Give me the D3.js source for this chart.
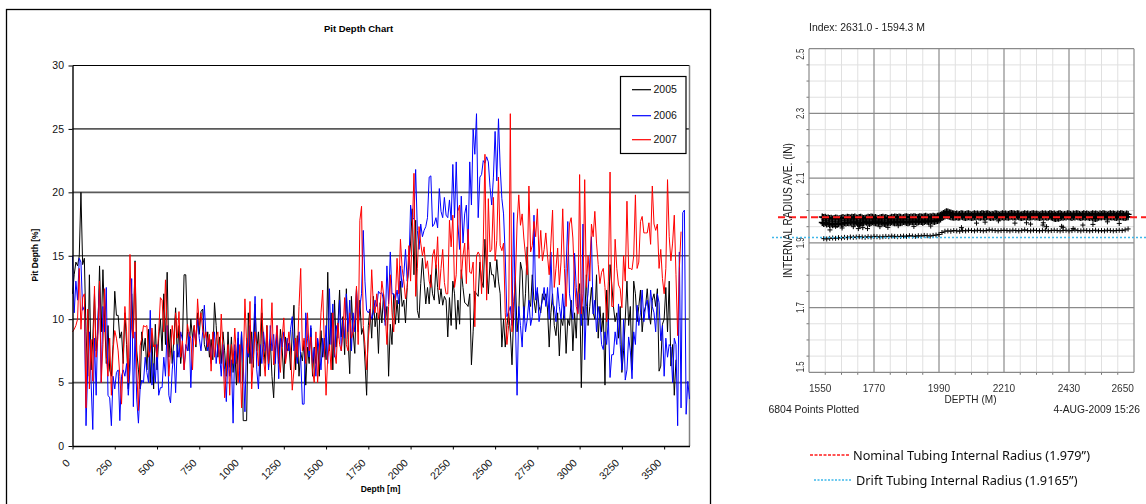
<!DOCTYPE html>
<html>
<head>
<meta charset="utf-8">
<script src="https://cdn.jsdelivr.net/npm/d3@7"></script>
<style>
  html, body { margin: 0; padding: 0; background: #fff; }
  svg { display: block; }
</style>
</head>
<body>
<svg id="chart" width="1146" height="504"></svg>
<script>
// ---------- Pit depth survey (left panel) ----------
// one reading every 10 m, starting at 0 m
const pitDepthStart = 0;
const pitDepthStep = 10;

const pit2005 = [
  12, 13.5, 14.5, 14.2, 15, 20, 14.3, 14.8, 9, 5.5,
  13.5, 6, 8.5, 12, 7.5, 9, 14.2, 9, 13.9, 10,
  6.5, 9.5, 6, 5.5, 8, 12.2, 10.3, 10.3, 8.5, 9,
  6.5, 10.5, 8, 4.5, 7, 12, 9, 14.6, 7.5, 6,
  4.5, 9, 7.5, 8.5, 6, 9.2, 5, 8.8, 4.5, 9.6,
  6, 8.5, 10, 7.5, 12, 8, 13.7, 7, 9.2, 6.5,
  8.5, 10.9, 7, 9.5, 6.5, 8, 13.5, 13.5, 9, 7.5,
  10, 8.5, 9.5, 7.8, 10.5, 8.8, 10.6, 10.8, 8, 7.5,
  9, 7, 8.4, 6.8, 11.3, 9.5, 7, 8.6, 6.5, 9,
  7.5, 5.5, 9, 6.2, 8.6, 5.8, 7.5, 4.8, 8.5, 6,
  9, 2, 2, 2, 10.5, 6.5, 9, 6.2, 11.2, 7.5,
  9, 5.5, 10.5, 8, 6.5, 9.5, 6.2, 8.4, 5.5, 3.8,
  7.5, 8.8, 6.5, 9.2, 7.8, 5.3, 8.6, 7.5, 8.1, 6,
  9, 11.1, 6, 8.7, 5.5, 7.4, 6.7, 8.3, 4.8, 7.8,
  6.5, 9.3, 5.5, 7.8, 6.5, 8.4, 5.5, 9.1, 7, 8.5,
  6.8, 13.7, 7.5, 10.5, 6, 11.5, 7.8, 9.5, 12.3, 8.6,
  10.2, 7.2, 12.4, 8.4, 5.7, 11.8, 9, 7.3, 12.4, 9,
  11.5, 8.8, 9.3, 6.7, 4, 9.5, 10.8, 8.5, 11.8, 9.4,
  10.5, 7.3, 11.3, 9.7, 12, 9.8, 11, 5.5, 9.6, 8,
  12, 9.6, 11.5, 9.7, 13, 11, 11.5, 9.7, 12.5, 14.5,
  16, 18.7, 13.5, 17.8, 10.7, 10.1, 12.8, 14.8, 13, 11.2,
  12.5, 11.2, 13.5, 12, 11.5, 14.3, 12.5, 11.2, 12.4, 11.1,
  11.8, 11.5, 8.6, 11.7, 9.5, 13, 12, 9.2, 11.5, 9.6,
  13.9, 12.5, 11.3, 11.2, 11, 12, 6.4, 9, 12.2, 12,
  11.8, 14.5, 13, 12.5, 16.3, 14, 12, 14.5, 13.5, 13.5,
  12.5, 14.7, 13, 12, 7.8, 10, 7.8, 9.5, 10.5, 9,
  6.4, 10.5, 13.3, 9, 10.5, 14.5, 13.8, 10, 12, 15.7,
  11.5, 11, 13.5, 11.5, 10.5, 12.2, 11, 10.5, 12, 11.5,
  12, 10.8, 7.8, 10.5, 12, 9.5, 8.7, 10.5, 7.1, 10,
  9.5, 11, 7.3, 10, 9.5, 11.5, 7.5, 10.5, 8.5, 12,
  12.8, 4.6, 11, 10, 13.5, 9.5, 11, 12.5, 10.5, 10,
  13.5, 8.5, 11, 9, 10.5, 4.8, 12.3, 9.5, 14.3, 12.8,
  11, 9.8, 10.5, 8.5, 11, 5.8, 7.5, 10, 13, 9.5,
  11, 6, 13, 12, 9.8, 11, 12.3, 9, 10.5, 11,
  12.4, 10.5, 9.6, 11.5, 12, 11, 12.4, 5.9, 6.3, 9.6,
  10, 12.5, 9, 13, 6.3, 8, 4, 6.8
];

const pit2006 = [
  15, 10.5, 13, 11.5, 14.8, 14.5, 10.7, 11, 1.6, 6,
  9, 5, 1.3, 8.5, 4, 10, 12.5, 5, 11, 9,
  12.5, 4, 3.8, 1.6, 5.5, 4.5, 5.8, 6, 2, 5.5,
  6, 5.5, 6.5, 4, 6, 13.2, 3.1, 9, 3.7, 1.8,
  4.5, 5.2, 5, 7, 5.8, 5, 10.7, 4.8, 6.5, 5,
  8, 4, 4.6, 4.6, 7, 5.5, 9.5, 4, 3.4, 6,
  7.5, 4.2, 8, 7, 9, 8.4, 6, 8, 7.5, 9,
  4.6, 8.5, 9, 8.3, 10, 8.5, 7.5, 9, 11.1, 8.5,
  7.5, 8.5, 6.5, 7.8, 9, 6.5, 8, 7.2, 5.5, 8,
  6, 3.5, 7.5, 5.5, 6.8, 1.8, 8, 6.5, 9, 5,
  9, 6.5, 2.7, 8.5, 7, 9.5, 6.5, 8.5, 11.8, 6,
  4.5, 8, 6.5, 9, 7.5, 8.5, 6, 9.5, 7.5, 8.8,
  6.5, 9.5, 5.3, 8.5, 7.8, 9, 6.8, 8.5, 7.5, 9.2,
  10.2, 7.5, 8.5, 6.5, 9, 7, 3.3, 3.3, 10.5, 8.5,
  7, 9.5, 6.5, 7.7, 5.5, 8.5, 7.5, 6, 8.5, 7,
  9.5, 6.5, 12.4, 8, 11.2, 7, 9.5, 8.5, 11.5, 7.5,
  10, 8.5, 12, 9, 11.5, 7.5, 10.5, 9, 12.4, 9.5,
  11, 12, 17, 13, 10.7, 10.5, 10.8, 10, 10.5, 11.5,
  11, 12.2, 12, 12.1, 11.5, 9.5, 14.2, 11.2, 15.3, 12,
  12, 11.5, 12.3, 11.2, 14.2, 12.5, 13.5, 15.5, 13, 14,
  19, 17.8, 18, 21.8, 17, 15.5, 17.5, 16.5, 17, 17.3,
  18, 21.2, 21.3, 17.3, 17.5, 18, 17.2, 20.3, 18.5, 18,
  19.6, 18.2, 18, 19.4, 17.8, 22.2, 18, 22.4, 17.5, 15.5,
  19.7, 16, 18.3, 19, 15.5, 22.4, 19, 25, 23, 26.2,
  18, 21.2, 21.4, 22.5, 22.3, 22.8, 22.4, 20.4, 19, 21.2,
  24.8, 20.9, 25.8, 22, 19.5, 18.3, 15, 10.2, 10.6, 11,
  9.5, 18.4, 10, 4, 11, 9.5, 7.8, 11, 9, 10,
  11.5, 9.5, 10.2, 18.2, 11.5, 12.5, 9.8, 10.8, 11.5, 12.5,
  11, 12.5, 10, 15.3, 11.2, 11, 9.8, 12.5, 11, 10,
  12, 10, 14, 17.7, 12, 11, 10, 15.2, 12.5, 10.5,
  12, 9.5, 17.5, 6.8, 11, 12, 14.5, 16.5, 10.4, 11.5,
  9, 11, 10, 8, 7.6, 9, 8, 10, 5.4, 7.2,
  7.2, 9, 8, 11.2, 8, 6, 10, 5.2, 6, 8.6,
  7.5, 5.3, 9, 8, 11.1, 9.5, 10.5, 12.3, 9.8, 11,
  11.5, 10, 12.3, 11, 10.5, 9, 12, 11.3, 8.3, 9.5,
  5.5, 8.5, 7, 8, 7.8, 5, 8.5, 8, 1.6, 15.3,
  3, 18.4, 18.6, 2.5, 5.1, 3.7
];

const pit2007 = [
  9, 9.2, 9.5, 10, 14, 9.2, 11.7, 12, 3, 10.8,
  4.5, 8.4, 5.1, 12.6, 7, 8.5, 13, 5, 8, 12.4,
  7, 5.5, 8.5, 4, 7.5, 9.1, 8.5, 7.5, 5.5, 3.3,
  7, 11, 9, 5, 15.1, 9.3, 8.5, 14.5, 6, 2.8,
  7.9, 8.5, 9.5, 9.4, 9.5, 7, 7.5, 9.3, 7.8, 8,
  7, 9, 11.7, 11.5, 9, 13.1, 9, 5.5, 7.5, 9.5,
  8, 10.5, 8.5, 10.6, 7, 8.3, 6, 7.5, 9.6, 8.8,
  8.5, 6, 9.5, 8, 11.6, 9.5, 10.5, 9.2, 8.5, 9,
  7.8, 8.8, 5.9, 9, 7, 8.5, 9, 6.5, 10.4, 7.5,
  3.8, 6, 8, 4, 8, 6.5, 9.3, 7, 5, 8,
  3, 6, 11.6, 8, 7.3, 11.4, 4.5, 7, 9, 8,
  6.3, 8.5, 11.6, 7, 5.5, 9.5, 6.5, 8, 11.3, 6.4,
  8, 9.5, 7, 5.8, 8.5, 10.1, 6.5, 7.6, 9, 7.5,
  4.4, 6, 8.5, 7, 11, 14, 7.5, 8.5, 6.5, 10.5,
  7.5, 8.6, 6, 5, 9, 5, 7.5, 10.5, 12.3, 8,
  4, 7, 8, 6, 10.5, 7.5, 6.5, 9.7, 8, 7.5,
  9, 11.7, 8, 7.5, 10.5, 8.5, 9, 10, 12.6, 8,
  17.8, 18.9, 9.5, 8, 6, 8.5, 10, 13.9, 11, 10.5,
  12, 10, 11, 13, 12, 10.5, 8, 11, 13.5, 10.5,
  9, 11.5, 14.8, 12, 16.3, 14, 13, 11.6, 12.5, 15.8,
  13, 17, 21.5, 11.8, 14, 17.3, 16, 15, 15.7, 14,
  14.6, 13, 12.5, 15, 15.5, 14, 16.5, 12.3, 14, 15.5,
  12.9, 12, 12, 17.8, 15.7, 18.2, 12.5, 13.5, 18.5, 19,
  13.2, 15, 16, 12.8, 17.1, 13.7, 13.6, 14.5, 9.4, 15,
  15.3, 15, 12, 16, 23, 11.5, 19.5, 15.3, 15.5, 19.6,
  14.6, 16.2, 21.2, 15.8, 15.4, 16, 10.5, 8, 9.5, 26.2,
  9, 11.4, 13, 17.5, 19.8, 17.4, 18.3, 16.4, 15, 13.5,
  20.5, 15.3, 15.8, 17.7, 16.5, 18.7, 14.8, 17, 14.6, 15.5,
  16.8, 15, 13.5, 16, 18.6, 12.5, 14, 15.6, 12.7, 14.5,
  18.7, 14, 11, 14.5, 17.5, 18, 16.4, 13, 11, 10.4,
  21.4, 10.4, 12, 21, 12.5, 15, 13, 17.5, 16.5, 18.5,
  16, 14.3, 12.8, 13.7, 14, 12.5, 9.8, 13, 21.6, 11,
  11, 16.3, 14, 12.7, 12.4, 10.9, 15, 13, 19.3, 14,
  14, 13.9, 15, 19.8, 14, 14.5, 17.7, 18.1, 16.8, 16.8,
  16.8, 17.6, 15.9, 20.5, 17.5, 17, 17.5, 14, 15.5, 13.2,
  12, 14, 21, 16.5, 14.6, 16, 18.2, 13.5, 8.7, 14,
  16.9
];

const pitYears = ["2005", "2006", "2007"];
const pitColors = ["#000000", "#0000ff", "#ff0000"];
const pitTicksX = [0, 250, 500, 750, 1000, 1250, 1500, 1750, 2000, 2250, 2500, 2750, 3000, 3250, 3500];
const pitTicksY = [0, 5, 10, 15, 20, 25, 30];

// ---------- Caliper log (right panel) ----------
// dense band of readings near nominal radius, one pair every 5 m from 1595 m
const bandStart = 1595;
const bandStep = 5;
const bandUpper = [
  1.980,1.978,1.979,1.976,1.977,1.975,1.976,1.974,1.975,1.977,1.976,1.974,1.975,1.977,1.978,1.976,1.977,1.979,1.978,1.977,
  1.979,1.978,1.980,1.977,1.976,1.978,1.979,1.977,1.975,1.976,1.977,1.979,1.978,1.980,1.979,1.977,1.978,1.976,1.975,1.977,1.978,1.979,
  1.977,1.978,1.976,1.975,1.977,1.979,1.978,1.980,1.979,1.978,1.980,1.979,1.977,1.978,1.980,1.981,1.979,1.978,1.980,1.979,
  1.981,1.980,1.978,1.979,1.981,1.980,1.979,1.981,1.982,1.980,1.979,1.981,1.980,1.982,1.981,1.980,1.982,1.983,1.985,
  1.988,1.991,1.993,1.996,1.995,1.993,1.992,1.990,1.989,
  1.988,1.989,1.987,1.988,1.990,1.989,1.987,1.988,1.989,1.990,
  1.988,1.986,1.988,1.990,1.988,1.989,1.987,1.988,1.990,1.989,
  1.988,1.989,1.990,1.988,1.986,1.988,1.987,1.990,1.989,1.988,
  1.986,1.988,1.990,1.988,1.989,1.987,1.988,1.989,1.991,1.989,
  1.989,1.988,1.990,1.989,1.986,1.987,1.988,1.990,1.988,1.989,
  1.987,1.988,1.989,1.990,1.988,1.989,1.988,1.986,1.988,1.990,
  1.988,1.989,1.987,1.988,1.990,1.989,1.988,1.989,1.986,1.988,
  1.989,1.990,1.988,1.986,1.988,1.987,1.990,1.989,1.988,1.986,
  1.989,1.988,1.990,1.989,1.988,1.986,1.988,1.990,1.988,1.989,
  1.988,1.986,1.988,1.990,1.988,1.989,1.988,1.986,1.989,1.988,
  1.990,1.989,1.988,1.986,1.988,1.990,1.988,1.989,1.988,1.986,
  1.989,1.988,1.990,1.989,1.988,1.986,1.989,1.988
];
const bandLower = [
  1.963,1.960,1.962,1.958,1.960,1.957,1.959,1.956,1.958,1.960,1.957,1.959,1.961,1.958,1.960,1.962,1.961,1.963,1.962,1.964,
  1.963,1.965,1.962,1.964,1.960,1.958,1.961,1.963,1.962,1.965,1.964,1.962,1.960,1.963,1.965,1.964,1.962,1.961,1.963,1.965,1.964,1.962,
  1.960,1.959,1.962,1.964,1.963,1.965,1.964,1.962,1.964,1.966,1.965,1.963,1.964,1.966,1.965,1.963,1.962,1.964,1.966,1.965,
  1.967,1.966,1.964,1.965,1.967,1.966,1.964,1.966,1.968,1.967,1.965,1.966,1.968,1.967,1.966,1.968,1.969,1.971,1.974,
  1.978,1.981,1.983,1.985,1.984,1.982,1.981,1.980,1.979,
  1.980,1.981,1.979,1.980,1.982,1.981,1.979,1.978,1.980,1.981,
  1.980,1.978,1.979,1.981,1.980,1.982,1.980,1.979,1.981,1.980,
  1.979,1.981,1.982,1.980,1.978,1.980,1.979,1.981,1.982,1.980,
  1.978,1.980,1.981,1.979,1.981,1.980,1.979,1.981,1.982,1.980,
  1.981,1.980,1.982,1.981,1.979,1.978,1.980,1.981,1.980,1.981,
  1.979,1.980,1.981,1.982,1.980,1.981,1.980,1.978,1.979,1.981,
  1.980,1.981,1.979,1.980,1.982,1.980,1.978,1.976,1.975,1.977,
  1.976,1.978,1.980,1.979,1.981,1.980,1.982,1.981,1.980,1.978,
  1.981,1.980,1.982,1.981,1.980,1.978,1.980,1.981,1.979,1.981,
  1.980,1.978,1.980,1.977,1.976,1.975,1.977,1.979,1.981,1.980,
  1.982,1.981,1.980,1.978,1.980,1.981,1.980,1.981,1.979,1.978,
  1.980,1.979,1.981,1.980,1.979,1.978,1.980,1.981
];
// lower trace, one reading every 10 m from 1600 m
const traceStart = 1600;
const traceStep = 10;
const traceRadius = [
  1.913,1.912,1.914,1.915,1.914,1.916,1.915,1.917,1.916,1.918,
  1.917,1.918,1.919,1.918,1.917,1.919,1.918,1.920,1.919,1.918,
  1.919,1.920,1.919,1.921,1.920,1.919,1.920,1.921,1.920,1.922,
  1.921,1.920,1.922,1.921,1.923,1.922,1.921,1.923,1.924,1.926,
  1.932,1.936,1.937,1.936,1.938,1.937,1.936,1.938,1.937,1.939,
  1.938,1.937,1.939,1.938,1.937,1.938,1.940,1.939,1.938,1.937,
  1.938,1.939,1.938,1.937,1.939,1.938,1.937,1.938,1.940,1.938,
  1.937,1.939,1.938,1.937,1.938,1.939,1.937,1.938,1.939,1.938,
  1.937,1.938,1.939,1.937,1.938,1.940,1.938,1.937,1.939,1.938,
  1.937,1.938,1.939,1.937,1.938,1.937,1.939,1.938,1.937,1.938,
  1.939,1.938,1.940,1.943
];
// isolated readings between the band and the lower trace
const strayDepth = [1621, 1640, 1662, 1700, 1717, 1722, 1732, 1748, 1790, 1817, 1852, 1905, 1962, 2066, 2117,
                    2146, 2191, 2247, 2286, 2300, 2342, 2343, 2354, 2405, 2410, 2444, 2477, 2511, 2560, 2600];
const strayRadius = [1.940, 1.951, 1.946, 1.950, 1.944, 1.953, 1.947, 1.944, 1.950, 1.948, 1.953, 1.951, 1.952, 1.947, 1.961,
                     1.964, 1.968, 1.961, 1.962, 1.958, 1.955, 1.962, 1.950, 1.951, 1.948, 1.944, 1.955, 1.957, 1.965, 1.960];

const nominalRadius = 1.979;
const driftRadius = 1.9165;
const caliperTicksX = [1550, 1770, 1990, 2210, 2430, 2650];
const caliperTicksY = [1.5, 1.7, 1.9, 2.1, 2.3, 2.5];

// ====================================================================
const svg = d3.select("#chart");
svg.append("rect").attr("width", 1146).attr("height", 504).attr("fill", "#fff");

const defs = svg.append("defs");
defs.append("filter").attr("id", "soft")
  .attr("filterUnits", "userSpaceOnUse")
  .attr("x", 740).attr("y", 0).attr("width", 406).attr("height", 504)
  .append("feGaussianBlur").attr("stdDeviation", 0.35);

const SANS = "'Liberation Sans', Arial, sans-serif";
const NARROW = "'Liberation Sans Narrow', 'Arial Narrow', 'Liberation Sans', Arial, sans-serif";

// ---------------- Left panel ----------------
(function drawPitChart() {
  const P = { left: 72.5, right: 689.5, top: 65.5, bottom: 446 };
  const x = d3.scaleLinear().domain([0, 3650]).range([P.left, P.right]);
  const y = d3.scaleLinear().domain([0, 30]).range([P.bottom, P.top]);
  const g = svg.append("g");

  // chart frame
  g.append("rect").attr("x", 6.5).attr("y", 9.5).attr("width", 704).attr("height", 530)
    .attr("fill", "none").attr("stroke", "#000").attr("stroke-width", 1.3);

  // horizontal gridlines
  g.append("g").selectAll("line")
    .data(pitTicksY.filter(v => v > 0 && v < 30))
    .join("line")
    .attr("x1", P.left).attr("x2", P.right)
    .attr("y1", d => y(d)).attr("y2", d => y(d))
    .attr("stroke", "#5a5a5a").attr("stroke-width", 1.7);

  // plot border: top black, right grey
  g.append("line").attr("x1", P.left).attr("x2", P.right).attr("y1", P.top).attr("y2", P.top)
    .attr("stroke", "#000").attr("stroke-width", 1.2);
  g.append("line").attr("x1", P.right).attr("x2", P.right).attr("y1", P.top).attr("y2", P.bottom)
    .attr("stroke", "#808080").attr("stroke-width", 1.5);

  // series
  const series = [pit2005, pit2006, pit2007];
  const line = d3.line()
    .x((d, i) => x(pitDepthStart + i * pitDepthStep))
    .y(d => y(d));
  series.forEach((vals, k) => {
    g.append("path").datum(vals)
      .attr("d", line)
      .attr("fill", "none")
      .attr("stroke", pitColors[k])
      .attr("stroke-width", 1)
      .attr("stroke-linejoin", "miter");
  });

  // axes
  const yAxis = g.append("g").attr("transform", `translate(${P.left},0)`)
    .call(d3.axisLeft(y).tickValues(pitTicksY).tickFormat(d3.format("d"))
      .tickSize(4).tickPadding(4.5).tickSizeOuter(0));
  yAxis.select(".domain").attr("stroke", "#000").attr("stroke-width", 1.4);
  yAxis.selectAll(".tick line").attr("stroke", "#000");
  yAxis.selectAll("text").attr("font-family", SANS).attr("font-size", "10.5px").attr("fill", "#111");

  const xAxis = g.append("g").attr("transform", `translate(0,${P.bottom})`)
    .call(d3.axisBottom(x).tickValues(pitTicksX).tickFormat(d3.format("d"))
      .tickSize(3.5).tickSizeOuter(0));
  xAxis.select(".domain").attr("stroke", "#000").attr("stroke-width", 1.4);
  xAxis.selectAll(".tick line").attr("stroke", "#000");
  xAxis.selectAll("text")
    .attr("font-family", SANS).attr("font-size", "10.5px").attr("fill", "#111")
    .attr("text-anchor", "end")
    .attr("x", 0).attr("y", 0).attr("dy", "0.35em")
    .attr("transform", "translate(-5,15) rotate(-45)");

  // titles
  g.append("text").attr("x", 358.5).attr("y", 29).attr("dy", "0.35em")
    .attr("text-anchor", "middle").attr("font-family", SANS).attr("font-weight", "bold")
    .attr("font-size", "9.5px").text("Pit Depth Chart");
  g.append("text").attr("transform", "translate(35.5,255) rotate(-90)").attr("dy", "0.35em")
    .attr("text-anchor", "middle").attr("font-family", SANS).attr("font-weight", "bold")
    .attr("font-size", "8.5px").text("Pit Depth [%]");
  g.append("text").attr("x", 380.5).attr("y", 489).attr("dy", "0.35em")
    .attr("text-anchor", "middle").attr("font-family", SANS).attr("font-weight", "bold")
    .attr("font-size", "8.5px").text("Depth [m]");

  // legend
  const lg = g.append("g");
  lg.append("rect").attr("x", 620.5).attr("y", 76.5).attr("width", 65.5).attr("height", 77)
    .attr("fill", "#fff").attr("stroke", "#000").attr("stroke-width", 1.2);
  const rows = [89.7, 115.7, 139.7];
  pitYears.forEach((yr, k) => {
    lg.append("line").attr("x1", 632).attr("x2", 651).attr("y1", rows[k]).attr("y2", rows[k])
      .attr("stroke", pitColors[k]).attr("stroke-width", 1.2);
    lg.append("text").attr("x", 653.5).attr("y", rows[k]).attr("dy", "0.35em")
      .attr("font-family", SANS).attr("font-size", "10.5px").attr("fill", "#111").text(yr);
  });
})();

// ---------------- Right panel ----------------
(function drawCaliperChart() {
  const P = { left: 809, right: 1134, top: 48.7, bottom: 372.3 };
  const x = d3.scaleLinear().domain([1550, 2650]).range([P.left, P.right]);
  const y = d3.scaleLinear().domain([1.5, 2.5]).range([P.bottom, P.top]);
  const g = svg.append("g").attr("filter", "url(#soft)");

  // minor grid
  const minorX = d3.range(1550, 2650.1, 55).filter(v => !caliperTicksX.includes(v));
  const minorY = d3.range(1.5, 2.5001, 0.05).filter(v => !caliperTicksY.some(t => Math.abs(t - v) < 1e-6));
  g.append("g").selectAll("line").data(minorX).join("line")
    .attr("x1", d => x(d)).attr("x2", d => x(d)).attr("y1", P.top).attr("y2", P.bottom)
    .attr("stroke", "#e0e0e0").attr("stroke-width", 1);
  g.append("g").selectAll("line").data(minorY).join("line")
    .attr("x1", P.left).attr("x2", P.right).attr("y1", d => y(d)).attr("y2", d => y(d))
    .attr("stroke", "#e0e0e0").attr("stroke-width", 1);
  // minor ticks on the axes
  g.append("g").selectAll("line").data(minorY).join("line")
    .attr("x1", P.left - 2.5).attr("x2", P.left).attr("y1", d => y(d)).attr("y2", d => y(d))
    .attr("stroke", "#777").attr("stroke-width", 1);
  g.append("g").selectAll("line").data(minorX).join("line")
    .attr("x1", d => x(d)).attr("x2", d => x(d)).attr("y1", P.bottom).attr("y2", P.bottom + 2.5)
    .attr("stroke", "#777").attr("stroke-width", 1);

  // major grid
  g.append("g").selectAll("line").data(caliperTicksX).join("line")
    .attr("x1", d => x(d)).attr("x2", d => x(d)).attr("y1", P.top).attr("y2", P.bottom)
    .attr("stroke", "#8a8a8a").attr("stroke-width", 1.2);
  g.append("g").selectAll("line").data(caliperTicksY).join("line")
    .attr("x1", P.left).attr("x2", P.right).attr("y1", d => y(d)).attr("y2", d => y(d))
    .attr("stroke", "#8a8a8a").attr("stroke-width", 1.2);

  // y tick labels (rotated)
  g.append("g").selectAll("text").data(caliperTicksY).join("text")
    .attr("transform", d => `translate(800,${y(d)}) rotate(-90)`)
    .attr("dy", "0.35em")
    .attr("text-anchor", (d, i) => i === 0 ? "start" : (i === caliperTicksY.length - 1 ? "end" : "middle"))
    .attr("font-family", NARROW).attr("font-size", "11.5px").attr("fill", "#333")
    .attr("textLength", 11).attr("lengthAdjust", "spacingAndGlyphs")
    .text(d => d.toFixed(1));

  // x tick labels
  g.append("g").selectAll("text").data(caliperTicksX).join("text")
    .attr("x", d => x(d)).attr("y", 387.5).attr("dy", "0.35em")
    .attr("text-anchor", (d, i) => i === 0 ? "start" : (i === caliperTicksX.length - 1 ? "end" : "middle"))
    .attr("font-family", NARROW).attr("font-size", "11.5px").attr("fill", "#333")
    .attr("textLength", 22.5).attr("lengthAdjust", "spacingAndGlyphs")
    .text(d => d);

  // readings
  const plus = s => `M${-s},0H${s}M0,${-s}V${s}`;
  const pts = g.append("g").attr("stroke", "#000").attr("fill", "none");
  pts.selectAll(".tr").data(traceRadius).join("path").attr("class", "tr")
    .attr("transform", (d, i) => `translate(${x(traceStart + i * traceStep)},${y(d)})`)
    .attr("d", plus(2.5)).attr("stroke-width", 1);
  pts.selectAll(".st").data(strayRadius).join("path").attr("class", "st")
    .attr("transform", (d, i) => `translate(${x(strayDepth[i])},${y(d)})`)
    .attr("d", plus(2.5)).attr("stroke-width", 1);
  pts.selectAll(".bl").data(bandLower).join("path").attr("class", "bl")
    .attr("transform", (d, i) => `translate(${x(bandStart + i * bandStep)},${y(d)})`)
    .attr("d", plus(3.5)).attr("stroke-width", 1.4);
  pts.selectAll(".bu").data(bandUpper).join("path").attr("class", "bu")
    .attr("transform", (d, i) => `translate(${x(bandStart + i * bandStep)},${y(d)})`)
    .attr("d", plus(3.5)).attr("stroke-width", 1.4);

  // reference radii
  g.append("line").attr("x1", 778).attr("x2", 1146)
    .attr("y1", y(nominalRadius)).attr("y2", y(nominalRadius))
    .attr("stroke", "#ff1a1a").attr("stroke-width", 2).attr("stroke-dasharray", "7,4");
  g.append("line").attr("x1", 772).attr("x2", 1146)
    .attr("y1", y(driftRadius)).attr("y2", y(driftRadius))
    .attr("stroke", "#3fb8ea").attr("stroke-width", 1.5).attr("stroke-dasharray", "2,2");

  // texts
  const t = (x0, y0, str, opts) => {
    const el = g.append("text").attr("x", x0).attr("y", y0).attr("dy", "0.35em")
      .attr("font-family", opts.family || NARROW).attr("font-size", opts.size || "11.5px")
      .attr("fill", opts.fill || "#222").attr("text-anchor", opts.anchor || "start").text(str);
    if (opts.len) el.attr("textLength", opts.len).attr("lengthAdjust", "spacingAndGlyphs");
    return el;
  };
  t(809, 27, "Index: 2631.0 - 1594.3 M", { len: 116 });
  t(970.5, 398.5, "DEPTH (M)", { anchor: "middle", len: 52 });
  t(768.5, 409, "6804 Points Plotted", { len: 90.5 });
  t(1140, 409, "4-AUG-2009 15:26", { anchor: "end", size: "10.3px", family: SANS });
  g.append("text").attr("transform", "translate(788,210.5) rotate(-90)").attr("dy", "0.35em")
    .attr("text-anchor", "middle").attr("font-family", NARROW).attr("font-size", "12px")
    .attr("fill", "#222").attr("textLength", 135).attr("lengthAdjust", "spacingAndGlyphs")
    .text("INTERNAL RADIUS AVE. (IN)");

  // legend
  g.append("line").attr("x1", 810).attr("x2", 849).attr("y1", 455).attr("y2", 455)
    .attr("stroke", "#ff1a1a").attr("stroke-width", 1.5).attr("stroke-dasharray", "3,1.5");
  t(853, 455.5, "Nominal Tubing Internal Radius (1.979\u201D)",
    { family: "'Noto Sans', 'DejaVu Sans', sans-serif", size: "12.5px", len: 237, fill: "#111" });
  g.append("line").attr("x1", 814).attr("x2", 851).attr("y1", 480).attr("y2", 480)
    .attr("stroke", "#3fb8ea").attr("stroke-width", 1.5).attr("stroke-dasharray", "2,1.5");
  t(856, 480.5, "Drift Tubing Internal Radius (1.9165\u201D)",
    { family: "'Noto Sans', 'DejaVu Sans', sans-serif", size: "12.5px", len: 221.5, fill: "#111" });
})();
</script>
</body>
</html>
